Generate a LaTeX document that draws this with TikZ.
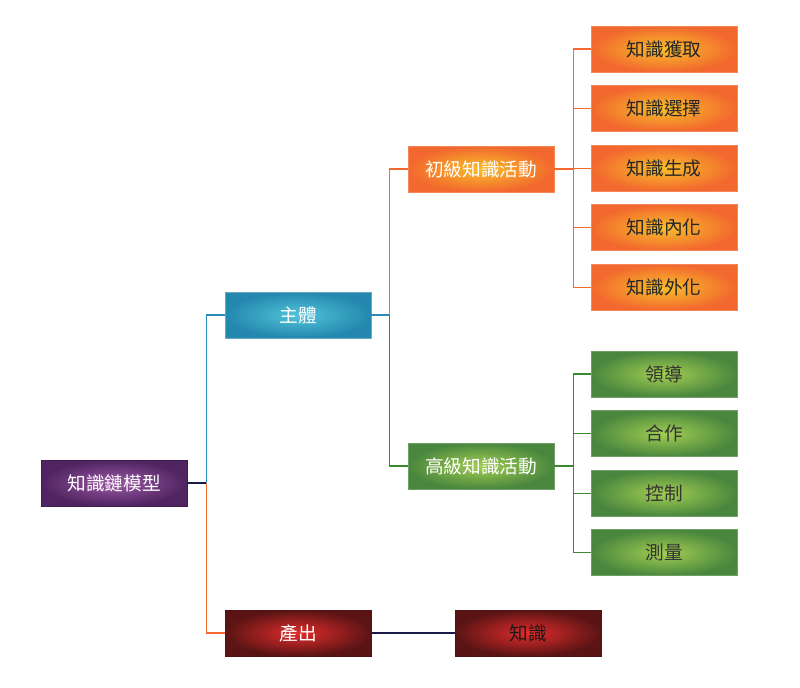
\documentclass[tikz,border=0pt]{standalone}
\usepackage{fontspec}
\setmainfont{Noto Sans CJK TC}
\usepackage{xcolor}
\usepackage{tikz}
\usetikzlibrary{positioning,calc}

\definecolor{puIn}{HTML}{9C5AA6}\definecolor{puOut}{HTML}{4F2460}
\definecolor{blIn}{HTML}{52C4DA}\definecolor{blOut}{HTML}{2487AE}
\definecolor{orIn}{HTML}{F9BE2A}\definecolor{orOut}{HTML}{F2682E}
\definecolor{grIn}{HTML}{A2CE52}\definecolor{grOut}{HTML}{4A873E}
\definecolor{rdIn}{HTML}{E22C2C}\definecolor{rdOut}{HTML}{5A1414}
\definecolor{lnBlue}{HTML}{2A8CB6}\definecolor{lnGreen}{HTML}{3A8A30}\definecolor{lnDark}{HTML}{1A1A48}

\begin{document}
\begin{tikzpicture}[x=0.75pt,y=-0.75pt,
  b/.style={draw,line width=0.6pt,shading=radial,minimum width=109.5pt,minimum height=34.5pt,inner sep=0pt,
    font=\fontsize{14pt}{16pt}\selectfont},
  pu/.style={b,inner color=puIn,outer color=puOut,draw=puOut!80!black,text=white},
  bu/.style={b,inner color=blIn,outer color=blOut,draw=blOut!70!white,text=white},
  ow/.style={b,inner color=orIn,outer color=orOut,draw=orOut!80!white,text=white},
  ok/.style={ow,text=black!85},
  gw/.style={b,inner color=grIn,outer color=grOut,draw=grOut!80!white,text=white},
  gk/.style={gw,text=black!80},
  rw/.style={b,inner color=rdIn,outer color=rdOut,draw=rdOut!90!black,text=white},
  rk/.style={rw,text=black!90},
  lb/.style={draw=lnBlue,line width=1pt}, lo/.style={draw=orOut,line width=1pt},
  lg/.style={draw=lnGreen,line width=1pt}, ld/.style={draw=lnDark,line width=1pt}]
\useasboundingbox (0,0) rectangle (800,687);
\node[pu] (r) at (114,483) {知識鏈模型};
\node[bu] (s) at (298,315) {主體};
\node[rw] (p) at (298,633) {產出};
\node[rk] (k) at (528,633) {知識};
\node[ow] (o) at (481,169) {初級知識活動};
\node[gw] (g) at (481,466) {高級知識活動};
% leaves
\node[ok] (o1) at (664,49) {知識獲取};
\node[ok,below=9.6pt of o1] (o2) {知識選擇};
\node[ok,below=9.6pt of o2] (o3) {知識生成};
\node[ok,below=9.6pt of o3] (o4) {知識內化};
\node[ok,below=9.6pt of o4] (o5) {知識外化};
\node[gk] (g1) at (664,374) {領導};
\node[gk,below=9.6pt of g1] (g2) {合作};
\node[gk,below=9.6pt of g2] (g3) {控制};
\node[gk,below=9.6pt of g3] (g4) {測量};
% connectors
\coordinate (rj) at ($(r.east)+(19,0)$);
\coordinate (sj) at ($(s.east)+(18,0)$);
\coordinate (oj) at ($(o.east)+(19,0)$);
\coordinate (gj) at ($(g.east)+(19,0)$);
\draw[ld] (r.east) -- (rj); \draw[lb] (rj) |- (s.west); \draw[lo] (rj) |- (p.west);
\draw[lb] (s.east) -- (sj); \draw[lo] (sj) |- (o.west); \draw[lg] (sj) |- (g.west);
\draw[ld] (p.east) -- (k.west);
\draw[lo] (o.east) -- (oj);
\foreach \n in {o1,o2,o3,o4,o5} \draw[lo] (oj) |- (\n.west);
\draw[lg] (g.east) -- (gj);
\foreach \n in {g1,g2,g3,g4} \draw[lg] (gj) |- (\n.west);
\end{tikzpicture}
\end{document}
